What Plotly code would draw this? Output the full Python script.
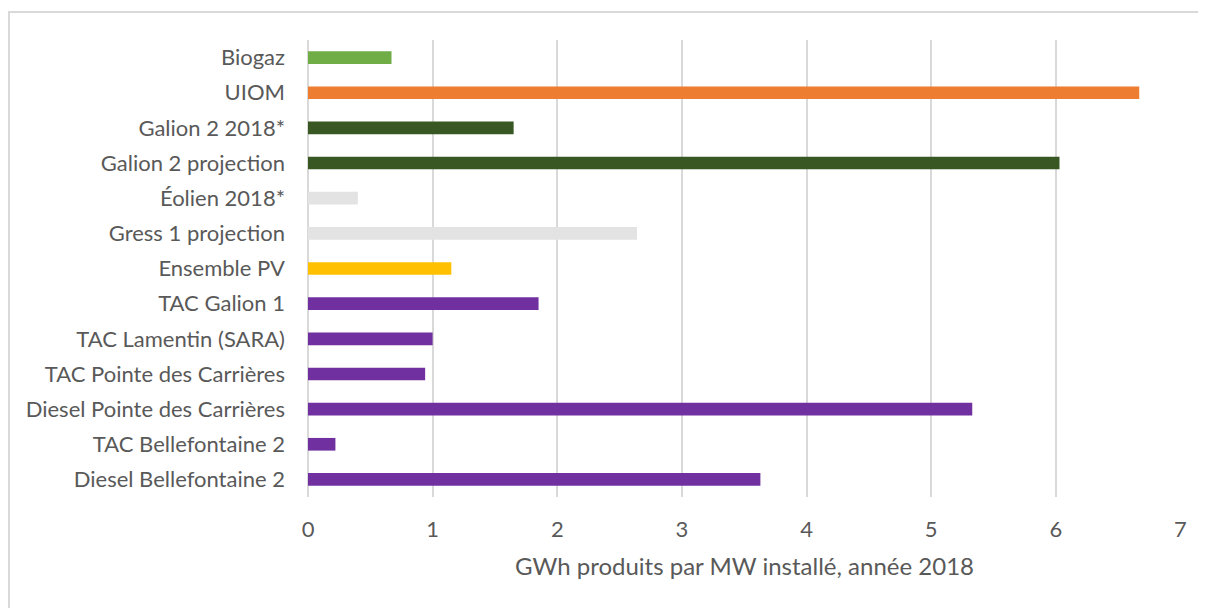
import plotly.graph_objects as go

# categories top -> bottom
centrales = [
    "Biogaz",
    "UIOM",
    "Galion 2 2018*",
    "Galion 2 projection",
    "Éolien 2018*",
    "Gress 1 projection",
    "Ensemble PV",
    "TAC Galion 1",
    "TAC Lamentin (SARA)",
    "TAC Pointe des Carrières",
    "Diesel Pointe des Carrières",
    "TAC Bellefontaine 2",
    "Diesel Bellefontaine 2",
]
gwh_par_mw = [0.67, 6.67, 1.65, 6.03, 0.40, 2.64, 1.15, 1.85, 1.00, 0.94, 5.33, 0.22, 3.63]
couleurs = ["#70AD47", "#ED7D31", "#385723", "#385723", "#E3E3E3", "#E3E3E3", "#FFC000",
            "#7030A0", "#7030A0", "#7030A0", "#7030A0", "#7030A0", "#7030A0"]
ticks_x = [0, 1, 2, 3, 4, 5, 6, 7]

police = dict(family="Lato, Open Sans, sans-serif", size=22, color="#595959")

# la page html ajoute 8px de marge autour de la figure
W, H = 1198, 600
L, T, B = 300, 32, 111
R = W - L - 873
PH = H - T - B

fig = go.Figure()
fig.add_trace(go.Bar(
    y=centrales,
    x=gwh_par_mw,
    orientation="h",
    marker=dict(color=couleurs, line_width=0),
    showlegend=False,
))

# cadre du graphique (bords gauche et haut visibles)
fig.add_shape(type="rect", xref="paper", yref="paper",
              x0=(1 - L) / 873, x1=(W + 20 - L) / 873,
              y0=(T + PH - H - 30) / PH, y1=(T + PH - 4) / PH,
              line=dict(color="#D9D9D9", width=2), layer="below")

fig.update_layout(
    width=W, height=H,
    margin=dict(l=L, r=R, t=T, b=B),
    paper_bgcolor="white", plot_bgcolor="white",
    font=police,
    bargap=0.64,
    xaxis=dict(
        range=[0, 7.005],
        tickvals=ticks_x,
        showgrid=True, gridcolor="#D9D9D9", gridwidth=1.5,
        zeroline=True, zerolinecolor="#D9D9D9", zerolinewidth=1.5,
        showline=False,
        ticklabelstandoff=17,
        title=dict(text="GWh produits par MW installé, année 2018", standoff=17,
                   font=dict(family=police["family"], size=24, color="#595959")),
        fixedrange=True,
    ),
    yaxis=dict(
        categoryorder="array", categoryarray=centrales,
        autorange="reversed",
        showgrid=False, showline=False, zeroline=False,
        ticklabelstandoff=22,
        fixedrange=True,
    ),
)

fig.write_html("out.html")
